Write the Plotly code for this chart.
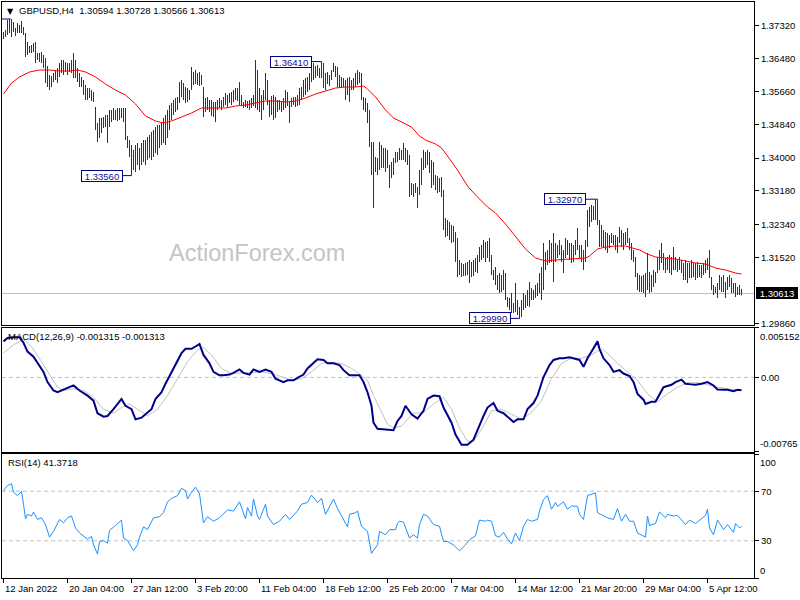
import plotly.graph_objects as go

# ---------------- data ----------------
highs = [
 1.37150,1.37200,1.37450,1.37475,1.37475,1.37400,1.37250,1.37375,1.37325,1.37425,
 1.37275,1.37125,1.36900,1.36800,1.36825,1.36875,1.36900,1.36625,1.36625,1.36650,
 1.36575,1.36500,1.36300,1.36075,1.36050,1.36125,1.36175,1.36250,1.36375,1.36450,
 1.36450,1.36400,1.36375,1.36375,1.36450,1.36625,1.36450,1.36250,1.36125,1.36025,
 1.35950,1.35825,1.35750,1.35750,1.35700,1.35650,1.35275,1.34875,1.35000,1.35000,
 1.35025,1.35075,1.35075,1.35200,1.35200,1.35250,1.35200,1.35250,1.35250,1.35250,
 1.35250,1.35250,1.34550,1.34450,1.34325,1.34200,1.34325,1.34375,1.34250,1.34375,
 1.34450,1.34450,1.34525,1.34575,1.34650,1.34700,1.34775,1.34825,1.34825,1.34900,
 1.35000,1.35075,1.35200,1.35325,1.35375,1.35450,1.35500,1.35525,1.35900,1.35950,
 1.35875,1.35775,1.35750,1.35700,1.36275,1.36150,1.36200,1.36125,1.36150,1.36075,
 1.35775,1.35500,1.35525,1.35450,1.35450,1.35400,1.35400,1.35450,1.35500,1.35450,
 1.35525,1.35625,1.35575,1.35625,1.35650,1.35700,1.35750,1.35750,1.35900,1.35575,
 1.35400,1.35450,1.35425,1.35450,1.35500,1.35575,1.36450,1.36200,1.35750,1.35575,
 1.35700,1.36125,1.35950,1.35450,1.35550,1.35575,1.35525,1.35450,1.35450,1.35400,
 1.35500,1.35700,1.35650,1.35400,1.35500,1.35525,1.35525,1.35575,1.35750,1.35775,
 1.35950,1.36000,1.36025,1.36125,1.36325,1.36375,1.36300,1.36325,1.36250,1.36410,
 1.36375,1.36125,1.36150,1.36075,1.36200,1.36375,1.36300,1.36275,1.36075,1.36025,
 1.36000,1.35950,1.36000,1.36025,1.35950,1.36000,1.36125,1.36200,1.36150,1.36125,
 1.35525,1.35500,1.35375,1.35200,1.34400,1.34400,1.34025,1.34000,1.34400,1.34325,
 1.34250,1.34250,1.34200,1.33825,1.33900,1.34000,1.34150,1.34150,1.34250,1.34200,
 1.34375,1.34250,1.34200,1.34075,1.33375,1.33350,1.33375,1.33275,1.33700,1.34000,
 1.34200,1.34150,1.34200,1.34150,1.33950,1.33900,1.33575,1.33550,1.33500,1.33525,
 1.33200,1.32500,1.32450,1.32400,1.32325,1.32300,1.32150,1.32000,1.31450,1.31375,
 1.31350,1.31375,1.31400,1.31450,1.31400,1.31450,1.31500,1.31575,1.31775,1.31825,
 1.31950,1.31900,1.31925,1.32000,1.31575,1.31200,1.31275,1.31075,1.31125,1.31075,
 1.31200,1.31125,1.30525,1.30500,1.30625,1.30375,1.30875,1.30450,1.30275,1.30450,
 1.30625,1.30575,1.30700,1.30900,1.30750,1.30700,1.30825,1.30875,1.31125,1.31275,
 1.31875,1.31650,1.31700,1.31950,1.31875,1.32125,1.31875,1.31825,1.31950,1.31825,
 1.31700,1.32000,1.31950,1.31875,1.31875,1.31825,1.31950,1.32250,1.31825,1.31825,
 1.31700,1.31950,1.32700,1.32775,1.32825,1.32800,1.32950,1.32970,1.32450,1.32325,
 1.32200,1.32150,1.32125,1.32075,1.32125,1.32075,1.32075,1.32025,1.32275,1.32200,
 1.32125,1.32150,1.32250,1.32000,1.31875,1.31700,1.31525,1.31125,1.31075,1.31050,
 1.31075,1.31125,1.31625,1.31150,1.31075,1.31200,1.31150,1.31525,1.31700,1.31875,
 1.31625,1.31500,1.31525,1.31575,1.31525,1.31775,1.31525,1.31450,1.31525,1.31450,
 1.31375,1.31450,1.31375,1.31375,1.31450,1.31375,1.31375,1.31400,1.31325,1.31325,
 1.31375,1.31450,1.31500,1.31700,1.31025,1.30825,1.30775,1.30875,1.31075,1.31025,
 1.31075,1.30900,1.31025,1.31075,1.31000,1.30875,1.30875,1.30775,1.30825,1.30728]

lows = [
 1.36975,1.37025,1.37075,1.37125,1.37025,1.37150,1.37050,1.37125,1.37125,1.37125,
 1.37075,1.36525,1.36575,1.36625,1.36625,1.36650,1.36375,1.36450,1.36400,1.36375,
 1.36250,1.35875,1.35775,1.35700,1.35775,1.35900,1.35950,1.35875,1.36025,1.36125,
 1.36075,1.36150,1.36075,1.36150,1.36125,1.36000,1.36000,1.35900,1.35775,1.35775,
 1.35575,1.35450,1.35450,1.35500,1.35425,1.35400,1.34700,1.34400,1.34500,1.34625,
 1.34750,1.34775,1.34375,1.34775,1.34900,1.34950,1.34950,1.34925,1.34950,1.35000,
 1.34900,1.34450,1.34250,1.34025,1.33560,1.33700,1.33650,1.33825,1.33700,1.33825,
 1.33900,1.33825,1.33950,1.34000,1.33950,1.34025,1.34125,1.34075,1.34250,1.34325,
 1.34375,1.34325,1.34500,1.34700,1.34950,1.35075,1.35150,1.35200,1.35375,1.35525,
 1.35450,1.35375,1.35400,1.35450,1.35700,1.35825,1.35850,1.35825,1.35800,1.35825,
 1.35025,1.35150,1.35200,1.35150,1.35050,1.35025,1.34900,1.35200,1.35250,1.35200,
 1.35275,1.35325,1.35275,1.35375,1.35325,1.35400,1.35450,1.35425,1.35325,1.35300,
 1.35250,1.35275,1.35250,1.35200,1.35250,1.35300,1.35250,1.35200,1.35150,1.34950,
 1.35200,1.35450,1.35325,1.35025,1.35075,1.34950,1.35000,1.35150,1.35200,1.35150,
 1.35200,1.35250,1.35300,1.34875,1.35275,1.35325,1.35275,1.35300,1.35325,1.35450,
 1.35525,1.35575,1.35650,1.35700,1.35900,1.35950,1.36000,1.36050,1.36000,1.36000,
 1.35750,1.35700,1.35850,1.35800,1.35950,1.36150,1.36025,1.35775,1.35750,1.35750,
 1.35775,1.35450,1.35575,1.35400,1.35700,1.35700,1.35775,1.35825,1.35875,1.35450,
 1.35200,1.35150,1.34875,1.34275,1.33575,1.32750,1.33650,1.33575,1.33700,1.33750,
 1.33750,1.33650,1.33750,1.33250,1.33500,1.33575,1.33875,1.33900,1.33950,1.33950,
 1.33950,1.33900,1.33825,1.33025,1.33075,1.33025,1.33125,1.32750,1.33075,1.33325,
 1.33700,1.33750,1.33825,1.33625,1.33250,1.33325,1.33200,1.33125,1.33150,1.33025,
 1.32200,1.32025,1.32050,1.31950,1.31875,1.31900,1.31400,1.31025,1.31075,1.31025,
 1.31050,1.31050,1.31075,1.30875,1.31025,1.31050,1.31150,1.31125,1.31400,1.31450,
 1.31500,1.31400,1.31500,1.31400,1.31075,1.30950,1.30825,1.30700,1.30625,1.30650,
 1.30700,1.30450,1.30275,1.30200,1.30125,1.30125,1.30150,1.30075,1.29990,1.30025,
 1.30200,1.30250,1.30300,1.30275,1.30450,1.30450,1.30500,1.30550,1.30625,1.30450,
 1.30700,1.31200,1.31325,1.31375,1.31400,1.30900,1.31400,1.31500,1.31575,1.31400,
 1.31125,1.31500,1.31575,1.31450,1.31375,1.31400,1.31575,1.31700,1.31500,1.31400,
 1.31200,1.31400,1.31775,1.32275,1.32400,1.32450,1.32450,1.32325,1.31775,1.31775,
 1.31775,1.31700,1.31625,1.31750,1.31875,1.31825,1.31700,1.31625,1.31875,1.31775,
 1.31700,1.31825,1.31875,1.31700,1.31450,1.31400,1.31025,1.30700,1.30650,1.30650,
 1.30625,1.30525,1.30700,1.30625,1.30650,1.30775,1.30875,1.31125,1.31200,1.31375,
 1.31200,1.31125,1.31200,1.31125,1.31075,1.31200,1.31200,1.31150,1.31200,1.31125,
 1.30950,1.30950,1.30875,1.31000,1.31000,1.31025,1.30950,1.31000,1.31025,1.31000,
 1.31075,1.31125,1.31200,1.31000,1.30700,1.30575,1.30625,1.30500,1.30700,1.30650,
 1.30650,1.30500,1.30700,1.30775,1.30625,1.30625,1.30525,1.30575,1.30575,1.30566]

ma_idx = [0,4,8,13,18,23,28,33,37,41,46,51,56,61,66,71,76,80,84,89,94,99,104,111,116,121,126,131,136,141,146,151,156,161,166,171,176,180,182,186,191,195,200,204,208,211,216,219,222,227,232,236,242,246,251,256,261,266,271,276,283,291,293,297,301,306,311,313,318,322,326,331,336,341,346,351,356,361,366,369]
ma_val = [1.35600,1.35875,1.36025,1.36150,1.36200,1.36200,1.36175,1.36175,1.36200,1.36150,1.36025,1.35850,1.35700,1.35575,1.35350,1.35050,1.34925,1.34875,1.34925,1.35025,1.35125,1.35250,1.35250,1.35250,1.35300,1.35325,1.35375,1.35425,1.35425,1.35400,1.35425,1.35500,1.35600,1.35675,1.35750,1.35775,1.35775,1.35800,1.35725,1.35525,1.35200,1.35000,1.34875,1.34775,1.34550,1.34450,1.34350,1.34250,1.34050,1.33700,1.33300,1.33075,1.32775,1.32625,1.32350,1.32050,1.31725,1.31500,1.31425,1.31450,1.31475,1.31500,1.31550,1.31725,1.31775,1.31800,1.31800,1.31775,1.31700,1.31600,1.31525,1.31500,1.31475,1.31425,1.31375,1.31350,1.31250,1.31200,1.31125,1.31100]

macd_idx = [0,2,5,8,10,12,15,17,20,22,25,27,30,32,35,38,42,45,47,50,52,55,57,59,61,64,66,69,71,74,76,79,81,84,86,89,91,94,96,98,100,103,105,108,110,113,115,118,120,123,125,128,131,134,136,140,142,145,147,150,152,155,157,160,162,165,168,170,173,175,178,180,182,184,185,187,190,192,195,197,199,201,204,207,210,212,215,218,220,224,226,229,232,235,237,240,242,245,247,250,252,255,257,260,262,265,267,269,270,273,275,278,280,283,285,288,290,292,295,297,298,300,303,305,308,310,313,315,317,320,321,324,326,328,330,334,336,339,341,344,346,349,352,355,357,360,362,365,367,369]
macd_val = [0.00372,0.00407,0.00414,0.00414,0.00358,0.00267,0.00214,0.00148,0.00057,-0.00048,-0.00135,-0.00153,-0.00125,-0.00107,-0.00083,-0.00135,-0.00188,-0.00240,-0.00370,-0.00405,-0.00398,-0.00328,-0.00275,-0.00223,-0.00293,-0.00328,-0.00433,-0.00416,-0.00380,-0.00328,-0.00223,-0.00153,-0.00065,0.00057,0.00145,0.00250,0.00295,0.00295,0.00319,0.00344,0.00232,0.00145,0.00057,0.00022,0.00022,0.00029,0.00046,0.00082,0.00046,0.00029,0.00082,0.00057,0.00082,0.00057,-0.00013,-0.00048,-0.00030,-0.00030,-0.00006,0.00029,0.00092,0.00145,0.00187,0.00180,0.00145,0.00145,0.00127,0.00075,0.00022,0.00022,0.00022,-0.00048,-0.00153,-0.00293,-0.00468,-0.00531,-0.00538,-0.00538,-0.00545,-0.00450,-0.00398,-0.00293,-0.00380,-0.00426,-0.00345,-0.00223,-0.00188,-0.00195,-0.00311,-0.00468,-0.00590,-0.00695,-0.00695,-0.00643,-0.00538,-0.00398,-0.00311,-0.00265,-0.00345,-0.00370,-0.00405,-0.00461,-0.00433,-0.00433,-0.00328,-0.00265,-0.00188,-0.00065,0.00004,0.00127,0.00180,0.00197,0.00197,0.00208,0.00197,0.00180,0.00109,0.00197,0.00302,0.00372,0.00295,0.00197,0.00127,0.00057,0.00075,0.00040,0.00015,-0.00048,-0.00170,-0.00230,-0.00275,-0.00251,-0.00251,-0.00170,-0.00101,-0.00076,-0.00048,-0.00023,-0.00065,-0.00072,-0.00076,-0.00065,-0.00048,-0.00083,-0.00125,-0.00128,-0.00128,-0.00143,-0.00128,-0.001315]

sig_idx = [0,5,10,14,19,24,27,30,35,40,45,50,55,59,63,67,72,77,82,87,92,97,100,104,109,114,119,124,130,137,144,149,154,159,164,169,174,179,182,185,189,192,195,199,202,205,210,215,220,224,228,232,235,240,244,249,254,259,264,269,274,279,284,289,294,299,302,307,312,317,322,327,332,337,342,347,352,357,362,369]
sig_val = [0.00250,0.00337,0.00390,0.00319,0.00162,0.00004,-0.00101,-0.00135,-0.00118,-0.00135,-0.00206,-0.00328,-0.00370,-0.00311,-0.00275,-0.00328,-0.00398,-0.00328,-0.00188,-0.00013,0.00162,0.00285,0.00309,0.00232,0.00092,0.00040,0.00046,0.00057,0.00057,0.00022,-0.00030,-0.00013,0.00057,0.00145,0.00155,0.00145,0.00092,0.00022,-0.00030,-0.00188,-0.00363,-0.00485,-0.00521,-0.00503,-0.00433,-0.00370,-0.00363,-0.00275,-0.00206,-0.00328,-0.00521,-0.00660,-0.00660,-0.00503,-0.00345,-0.00328,-0.00380,-0.00433,-0.00363,-0.00240,-0.00013,0.00145,0.00197,0.00197,0.00232,0.00295,0.00250,0.00145,0.00057,-0.00030,-0.00170,-0.00251,-0.00170,-0.00101,-0.00055,-0.00055,-0.00076,-0.00101,-0.00118,-0.001313]

rsi_idx = [0,2,4,5,7,9,10,11,12,14,15,17,19,21,23,25,28,30,32,34,36,38,42,44,45,47,48,50,52,53,56,59,60,62,65,67,68,70,72,75,78,80,82,84,87,89,91,92,94,96,98,100,102,105,108,112,115,118,121,122,124,125,127,128,131,132,135,138,141,143,147,149,152,154,157,159,161,163,165,167,169,172,173,176,177,179,182,184,187,188,191,193,196,197,198,200,203,205,207,208,210,212,215,218,220,222,225,228,231,233,236,238,241,242,244,246,248,250,252,254,256,258,260,262,264,267,268,270,272,274,276,277,280,282,284,287,288,290,292,294,296,297,300,302,305,307,309,311,313,315,317,319,321,322,323,326,328,331,332,335,337,341,343,346,348,351,352,353,355,357,360,362,365,366,368,369]
rsi_val = [70.5,74.6,76.0,69.2,66.4,69.7,59.5,47.8,51.3,50.0,53.2,47.2,48.6,43.1,33.0,37.6,47.2,44.5,48.6,50.0,40.4,36.3,31.4,33.5,26.7,19.3,29.4,30.2,28.1,38.4,42.3,46.7,32.2,30.2,22.0,26.7,33.0,41.2,39.0,48.6,49.4,52.7,61.4,64.2,66.4,72.4,70.5,63.7,69.2,73.3,67.8,44.5,49.4,45.8,48.6,54.9,54.0,61.4,47.8,56.8,50.0,63.7,50.0,47.2,59.5,50.0,43.1,45.8,51.3,47.2,54.0,59.5,60.9,66.9,60.9,64.2,51.3,58.2,63.7,56.0,50.0,41.2,51.3,52.7,54.0,41.7,37.6,19.9,26.7,37.6,34.9,39.0,39.0,43.9,45.8,45.0,32.2,34.9,32.2,43.1,51.3,50.0,43.1,41.7,29.4,29.4,26.7,22.0,26.7,30.8,34.1,46.7,45.8,46.7,45.8,34.1,33.0,36.8,31.4,27.5,36.3,30.2,41.7,47.2,45.8,47.2,54.0,63.1,66.4,55.4,60.9,57.7,61.4,55.4,58.2,57.7,51.3,47.2,66.4,67.8,68.6,52.7,50.0,48.6,47.2,56.0,45.8,51.3,45.8,45.8,36.3,34.9,33.0,50.0,42.3,43.9,53.2,48.6,51.3,50.0,50.5,43.1,46.7,43.9,46.7,50.5,55.4,40.4,34.9,46.7,39.0,43.1,36.8,43.9,40.4,41.3718]

date_idx = [0, 32, 64, 96, 128, 160, 192, 224, 256, 288, 320, 352]
date_labels = ["12 Jan 2022", "20 Jan 04:00", "27 Jan 12:00", "3 Feb 20:00", "11 Feb 04:00",
               "18 Feb 12:00", "25 Feb 20:00", "7 Mar 04:00", "14 Mar 12:00", "21 Mar 20:00",
               "29 Mar 04:00", "5 Apr 12:00"]
price_ticks = [1.37320, 1.36480, 1.35660, 1.34840, 1.34000, 1.33180, 1.32340, 1.31520, 1.29860]
last_price = 1.30613
macd_max, macd_min = 0.005152, -0.00765
rsi_levels = [70, 30]
mark_prices = [1.36410, 1.33560, 1.32970, 1.29990]
mark_bars = [159, 64, 297, 258]
mark_box_right = [154, 59.5, 291, 253.5]
top_mark_price = 1.37475
top_mark_bar = 3.5

# ---------------- layout helpers ----------------
W, H = 800, 600
ML, MR, MT, MB = 2, 46, 2, 22
PW, PH = W - ML - MR, H - MT - MB


def fx(px):
    return (px - ML) / PW


def fy(py):
    return (H - MB - py) / PH


FONT = "Liberation Sans, Arial, sans-serif"
BAR_C = "#0f3d5c"

bx, by = [], []
for i, (h, l) in enumerate(zip(highs, lows)):
    bx += [i, i, None]
    by += [l, h, None]

fig = go.Figure()
fig.add_trace(go.Scatter(x=bx, y=by, mode="lines", line=dict(color=BAR_C, width=1),
                         xaxis="x", yaxis="y", hoverinfo="skip", showlegend=False))
fig.add_trace(go.Scatter(x=ma_idx, y=ma_val, mode="lines", line=dict(color="#ff0000", width=1),
                         xaxis="x", yaxis="y", showlegend=False))
fig.add_trace(go.Scatter(x=sig_idx, y=sig_val, mode="lines", line=dict(color="#c0c0c0", width=1),
                         xaxis="x2", yaxis="y2", showlegend=False))
fig.add_trace(go.Scatter(x=macd_idx, y=macd_val, mode="lines", line=dict(color="#00008b", width=2),
                         xaxis="x2", yaxis="y2", showlegend=False))
fig.add_trace(go.Scatter(x=rsi_idx, y=rsi_val, mode="lines", line=dict(color="#1e90ff", width=1),
                         xaxis="x3", yaxis="y3", showlegend=False))

ax_common = dict(showgrid=False, zeroline=False, showline=True, mirror=True,
                 linecolor="black", linewidth=1, automargin=False, fixedrange=True)
tickfont = dict(family=FONT, size=9.5, color="black")

fig.update_layout(
    width=W, height=H, template="none",
    margin=dict(l=ML, r=MR, t=MT, b=MB, pad=0),
    paper_bgcolor="white", plot_bgcolor="white", showlegend=False,
    xaxis=dict(domain=[0, 1], range=[-0.75, 375.25], anchor="y", showticklabels=False,
               ticks="", **ax_common),
    xaxis2=dict(domain=[0, 1], matches="x", anchor="y2", showticklabels=False, ticks="", **ax_common),
    xaxis3=dict(domain=[0, 1], matches="x", anchor="y3", showticklabels=False, ticks="outside",
                ticklen=4, tickcolor="black", tickvals=date_idx, **ax_common),
    yaxis=dict(domain=[fy(325), 1.0], range=[1.29825, 1.37900], side="right", anchor="x",
               tickvals=price_ticks, ticktext=[f"{v:.5f}" for v in price_ticks],
               ticks="outside", ticklen=4, tickcolor="black", tickfont=tickfont, **ax_common),
    yaxis2=dict(domain=[fy(451.5), fy(327.5)], range=[macd_min, macd_max], side="right", anchor="x2",
                tickvals=[macd_max, 0, macd_min], ticktext=["", "0.00", ""],
                ticks="outside", ticklen=4, tickcolor="black", tickfont=tickfont, **ax_common),
    yaxis3=dict(domain=[0, fy(454)], range=[0, 100], side="right", anchor="x3",
                tickvals=[0, 30, 70, 100], ticktext=["", "30", "70", ""],
                ticks="outside", ticklen=4, tickcolor="black", tickfont=tickfont, **ax_common),
)

shapes = []
shapes.append(dict(type="line", xref="x domain", x0=0, x1=1, yref="y", y0=last_price, y1=last_price,
                   line=dict(color="#c0c0c0", width=1), layer="below"))
shapes.append(dict(type="line", xref="x2 domain", x0=0, x1=1, yref="y2", y0=0, y1=0,
                   line=dict(color="#c0c0c0", width=1, dash="4px,3px"), layer="below"))
for lv in rsi_levels:
    shapes.append(dict(type="line", xref="x3 domain", x0=0, x1=1, yref="y3", y0=lv, y1=lv,
                       line=dict(color="#c0c0c0", width=1, dash="4px,3px"), layer="below"))
for p, b, r in zip(mark_prices, mark_bars, mark_box_right):
    shapes.append(dict(type="line", xref="x", yref="y", x0=r, x1=b, y0=p, y1=p,
                       line=dict(color="#000080", width=1)))
shapes.append(dict(type="line", xref="x", yref="y", x0=-0.75, x1=top_mark_bar,
                   y0=top_mark_price, y1=top_mark_price, line=dict(color="#000080", width=1)))
fig.update_layout(shapes=shapes)

ann = []
ann.append(dict(text="ActionForex.com", xref="paper", yref="paper", x=fx(256.5), y=fy(253),
                showarrow=False, font=dict(family=FONT, size=23.5, color="#c4c4c4"),
                xanchor="center", yanchor="middle"))
ann.append(dict(text="▼", xref="paper", yref="paper", x=fx(5), y=fy(11), showarrow=False,
                font=dict(family="DejaVu Sans", size=8, color="black"), xanchor="left", yanchor="middle"))
ann.append(dict(text="GBPUSD,H4\u00a0\u00a01.30594 1.30728 1.30566 1.30613", xref="paper", yref="paper",
                x=fx(17), y=fy(10.5), showarrow=False, font=dict(family=FONT, size=9.5, color="black"),
                xanchor="left", yanchor="middle"))
ann.append(dict(text="MACD(12,26,9) -0.001315 -0.001313", xref="paper", yref="paper",
                x=fx(6), y=fy(336.5), showarrow=False, font=dict(family=FONT, size=9.5, color="black"),
                xanchor="left", yanchor="middle"))
ann.append(dict(text="RSI(14) 41.3718", xref="paper", yref="paper",
                x=fx(6), y=fy(462.5), showarrow=False, font=dict(family=FONT, size=9.5, color="black"),
                xanchor="left", yanchor="middle"))
for p, r in zip(mark_prices, mark_box_right):
    ann.append(dict(text=f"{p:.5f}", xref="x", yref="y", x=r, y=p, showarrow=False,
                    xanchor="right", yanchor="middle", font=dict(family=FONT, size=9.5, color="#10109a"),
                    bgcolor="white", bordercolor="#000080", borderwidth=1, borderpad=0,
                    width=40, height=10))
ann.append(dict(text=f"{last_price:.5f}", xref="paper", yref="y", x=fx(755.5), y=last_price,
                showarrow=False, xanchor="left", yanchor="middle",
                font=dict(family=FONT, size=9.5, color="white"), bgcolor="black",
                bordercolor="black", borderwidth=1, borderpad=0, width=40, height=10))
edge = [("0.005152", fy(328.5), "top"), ("-0.00765", fy(450.5), "bottom"),
        ("100", fy(454.5), "top"), ("0", fy(578), "bottom")]
for t, yy, ya in edge:
    ann.append(dict(text=t, xref="paper", yref="paper", x=fx(758), y=yy, showarrow=False,
                    xanchor="left", yanchor=ya, font=tickfont))
for d, lab in zip(date_idx, date_labels):
    ann.append(dict(text=lab, xref="x3", yref="paper", x=d - 0.4, y=fy(581), showarrow=False,
                    xanchor="left", yanchor="top", font=tickfont))
fig.update_layout(annotations=ann)

fig.write_html("out.html", config={"displayModeBar": False, "staticPlot": True},
               post_script="document.body.style.margin='0';document.body.style.padding='0';")
